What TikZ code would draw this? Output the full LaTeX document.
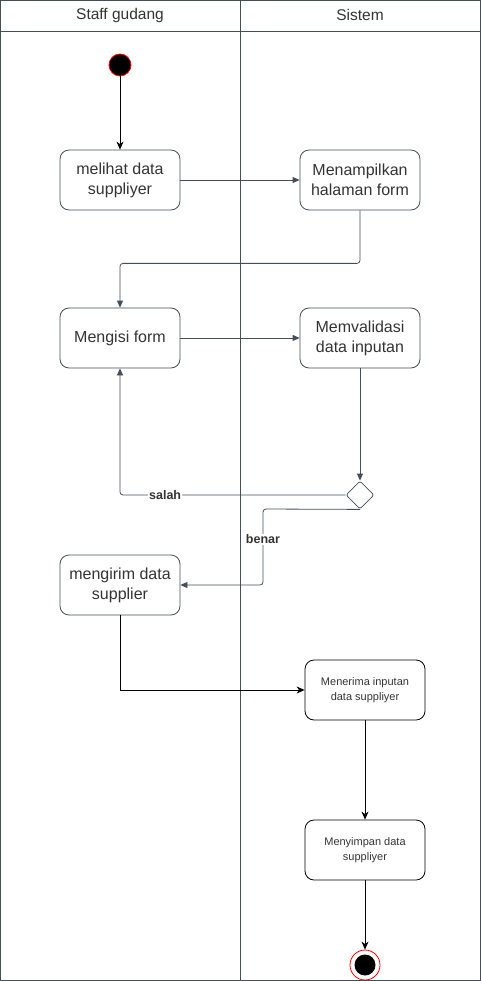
\documentclass[tikz,border=0pt]{standalone}
\usepackage{fontspec}
\setmainfont{Liberation Sans}
\usetikzlibrary{arrows.meta,shapes.geometric}
\definecolor{lanegray}{RGB}{69,77,89}
\definecolor{textgray}{RGB}{51,51,51}

\begin{document}
\begin{tikzpicture}[x=1pt,y=-1pt,
    actbox/.style={draw=lanegray,line width=0.8pt,rounded corners=9pt,minimum width=120pt,minimum height=60pt,
        align=center,text=textgray,font=\fontsize{16}{20}\selectfont},
    sysbox/.style={draw=black,line width=0.8pt,rounded corners=9pt,minimum width=120pt,minimum height=60pt,
        align=center,text=textgray,font=\fontsize{11}{15}\selectfont},
    flow/.style={draw=lanegray,line width=0.8pt,rounded corners=3pt,-{Triangle[length=7pt,width=6pt]}},
    blkflow/.style={draw=black,line width=0.8pt,-{Stealth[length=8pt,width=7pt,inset=2.5pt]}},
    guard/.style={fill=white,inner sep=1pt,text=textgray,font=\bfseries\fontsize{12.5}{14}\selectfont}]
\useasboundingbox (0,0) rectangle (481,981);

% lanes
\draw[lanegray,line width=0.8pt] (0.5,0.5) rectangle (480.5,980.5);
\draw[lanegray,line width=0.8pt] (0.5,31) -- (480.5,31);
\draw[lanegray,line width=0.8pt] (240.5,0.5) -- (240.5,980.5);
\node[text=textgray,font=\fontsize{15.5}{18}\selectfont] (laneStaff) at (120,15) {Staff gudang};
\node[text=textgray,font=\fontsize{15.5}{18}\selectfont] (laneSistem) at (360,15) {Sistem};

% activities
\node[circle,draw=red,fill=black,line width=0.8pt,minimum size=22pt,inner sep=0pt] (start) at (120,65) {};
\node[actbox] (lihat) at (120,180) {melihat data\\suppliyer};
\node[actbox] (tampil) at (360,180) {Menampilkan\\halaman form};
\node[actbox] (isi) at (120,338) {Mengisi form};
\node[actbox] (valid) at (360,338) {Memvalidasi\\data inputan};
\node[diamond,draw=lanegray,line width=0.8pt,fill=white,minimum size=28pt,inner sep=0pt,rounded corners=2pt] (cek) at (360,495) {};
\node[actbox] (kirim) at (120,585) {mengirim data\\supplier};
\node[sysbox] (terima) at (365,690) {Menerima inputan\\data suppliyer};
\node[sysbox] (simpan) at (365,850) {Menyimpan data\\suppliyer};
\node[circle,draw=red,fill=white,line width=0.8pt,minimum size=30pt,inner sep=0pt] (stop) at (365,965) {};
\node[circle,fill=black,minimum size=21pt,inner sep=0pt] (stopdot) at (stop) {};

% flows
\draw[blkflow] (start) -- (lihat);
\draw[flow] (lihat) -- (tampil);
\draw[flow] (tampil.south) -- ++(0,53) -| (isi.north);
\draw[flow] (isi) -- (valid);
\draw[flow] (valid) -- (cek);
\draw[flow] (cek.west) -| (isi.south) node[guard,pos=0.4] (salah) {salah};
\coordinate (benarbend) at (263,509);
\draw[flow] (cek.south) -- (benarbend) |- (kirim.east) node[guard,pos=0.2] (benar) {benar};
\draw[blkflow] (kirim.south) |- (terima.west);
\draw[blkflow] (terima) -- (simpan);
\draw[blkflow] (simpan) -- (stop);

\end{tikzpicture}
\end{document}
